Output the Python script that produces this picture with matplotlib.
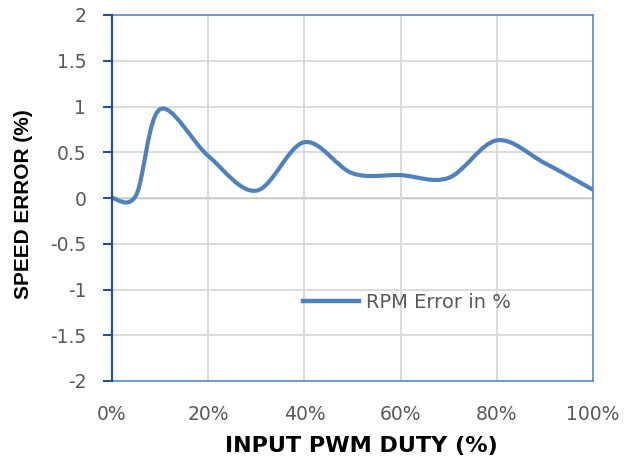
import numpy as np
import matplotlib
matplotlib.use('Agg')
import matplotlib.pyplot as plt
from matplotlib.path import Path
from matplotlib.patches import PathPatch
from matplotlib.lines import Line2D

# measured points (duty as fraction, error in %)
duty = [0.0, 0.05, 0.10, 0.20, 0.30, 0.40, 0.50, 0.60, 0.70, 0.80, 0.90, 1.00]
rpm_error = [0.0, 0.03, 0.97, 0.46, 0.08, 0.61, 0.27, 0.25, 0.22, 0.63, 0.38, 0.09]

x_ticks = [0.0, 0.2, 0.4, 0.6, 0.8, 1.0]
x_labels = ['0%', '20%', '40%', '60%', '80%', '100%']
y_ticks = [-2, -1.5, -1, -0.5, 0, 0.5, 1, 1.5, 2]
y_labels = ['-2', '-1.5', '-1', '-0.5', '0', '0.5', '1', '1.5', '2']

LINE_C = '#4F81BD'
TEXT_C = '#595959'


def smooth_path(xs, ys):
    # excel-style smoothed line: cubic bezier through every point
    pts = np.column_stack([xs, ys])
    n = len(pts)
    verts = [pts[0]]
    codes = [Path.MOVETO]
    for i in range(n - 1):
        p0 = pts[max(i - 1, 0)]
        p1 = pts[i]
        p2 = pts[i + 1]
        p3 = pts[min(i + 2, n - 1)]
        verts += [p1 + (p2 - p0) / 6, p2 - (p3 - p1) / 6, p2]
        codes += [Path.CURVE4] * 3
    return Path(verts, codes)


fig = plt.figure(figsize=(6.39, 4.58), dpi=100)
ax = fig.add_axes([112 / 639, 1 - 381 / 458, 481 / 639, 366 / 458])

ax.set_xlim(0, 1)
ax.set_ylim(-2, 2)
ax.set_xticks(x_ticks)
ax.set_xticklabels(x_labels)
ax.set_yticks(y_ticks)
ax.set_yticklabels(y_labels)
ax.grid(True, color='#D9D9D9', lw=1.3)
ax.set_axisbelow(True)

ax.tick_params(axis='x', length=0, pad=17, labelsize=13.5, labelcolor=TEXT_C)
ax.tick_params(axis='y', direction='out', length=6.5, width=1.5, color='#2B4F88',
               pad=12, labelsize=13.5, labelcolor=TEXT_C)

for side in ['top', 'right', 'bottom']:
    ax.spines[side].set_color('#5B8AC6')
    ax.spines[side].set_linewidth(1.2)
ax.spines['left'].set_color('#2B4F88')
ax.spines['left'].set_linewidth(1.6)
ax.spines['left'].set_zorder(4)

# horizontal axis crossing at y = 0
zero_ax = ax.secondary_xaxis(0.5)
zero_ax.set_xticks(x_ticks)
zero_ax.set_xticklabels([])
zero_ax.tick_params(direction='out', length=3.5, width=1.2, color='#BFBFBF')
zero_ax.spines['bottom'].set_color('#BFBFBF')
zero_ax.spines['bottom'].set_linewidth(1.5)

ax.add_patch(PathPatch(smooth_path(duty, rpm_error), facecolor='none',
                       edgecolor=LINE_C, lw=3, capstyle='round', zorder=3))

handle = Line2D([], [], color=LINE_C, lw=3.2)
ax.legend([handle], ['RPM Error in %'], loc='center left',
          bbox_to_anchor=((303 - 112) / 481, (381 - 302) / 366),
          frameon=False, borderpad=0, borderaxespad=0, handlelength=2.9,
          handletextpad=0.35, prop={'size': 14}, labelcolor=TEXT_C)

fig.text(361 / 639, 1 - 446 / 458, 'INPUT PWM DUTY (%)', ha='center', va='center',
         fontsize=16, fontweight='bold', family='DejaVu Sans')
fig.text(24 / 639, 1 - 204 / 458, 'SPEED ERROR (%)', ha='center', va='center',
         rotation=90, fontsize=15, fontweight='bold', family='Liberation Sans')

fig.savefig('out.png', dpi=100)
